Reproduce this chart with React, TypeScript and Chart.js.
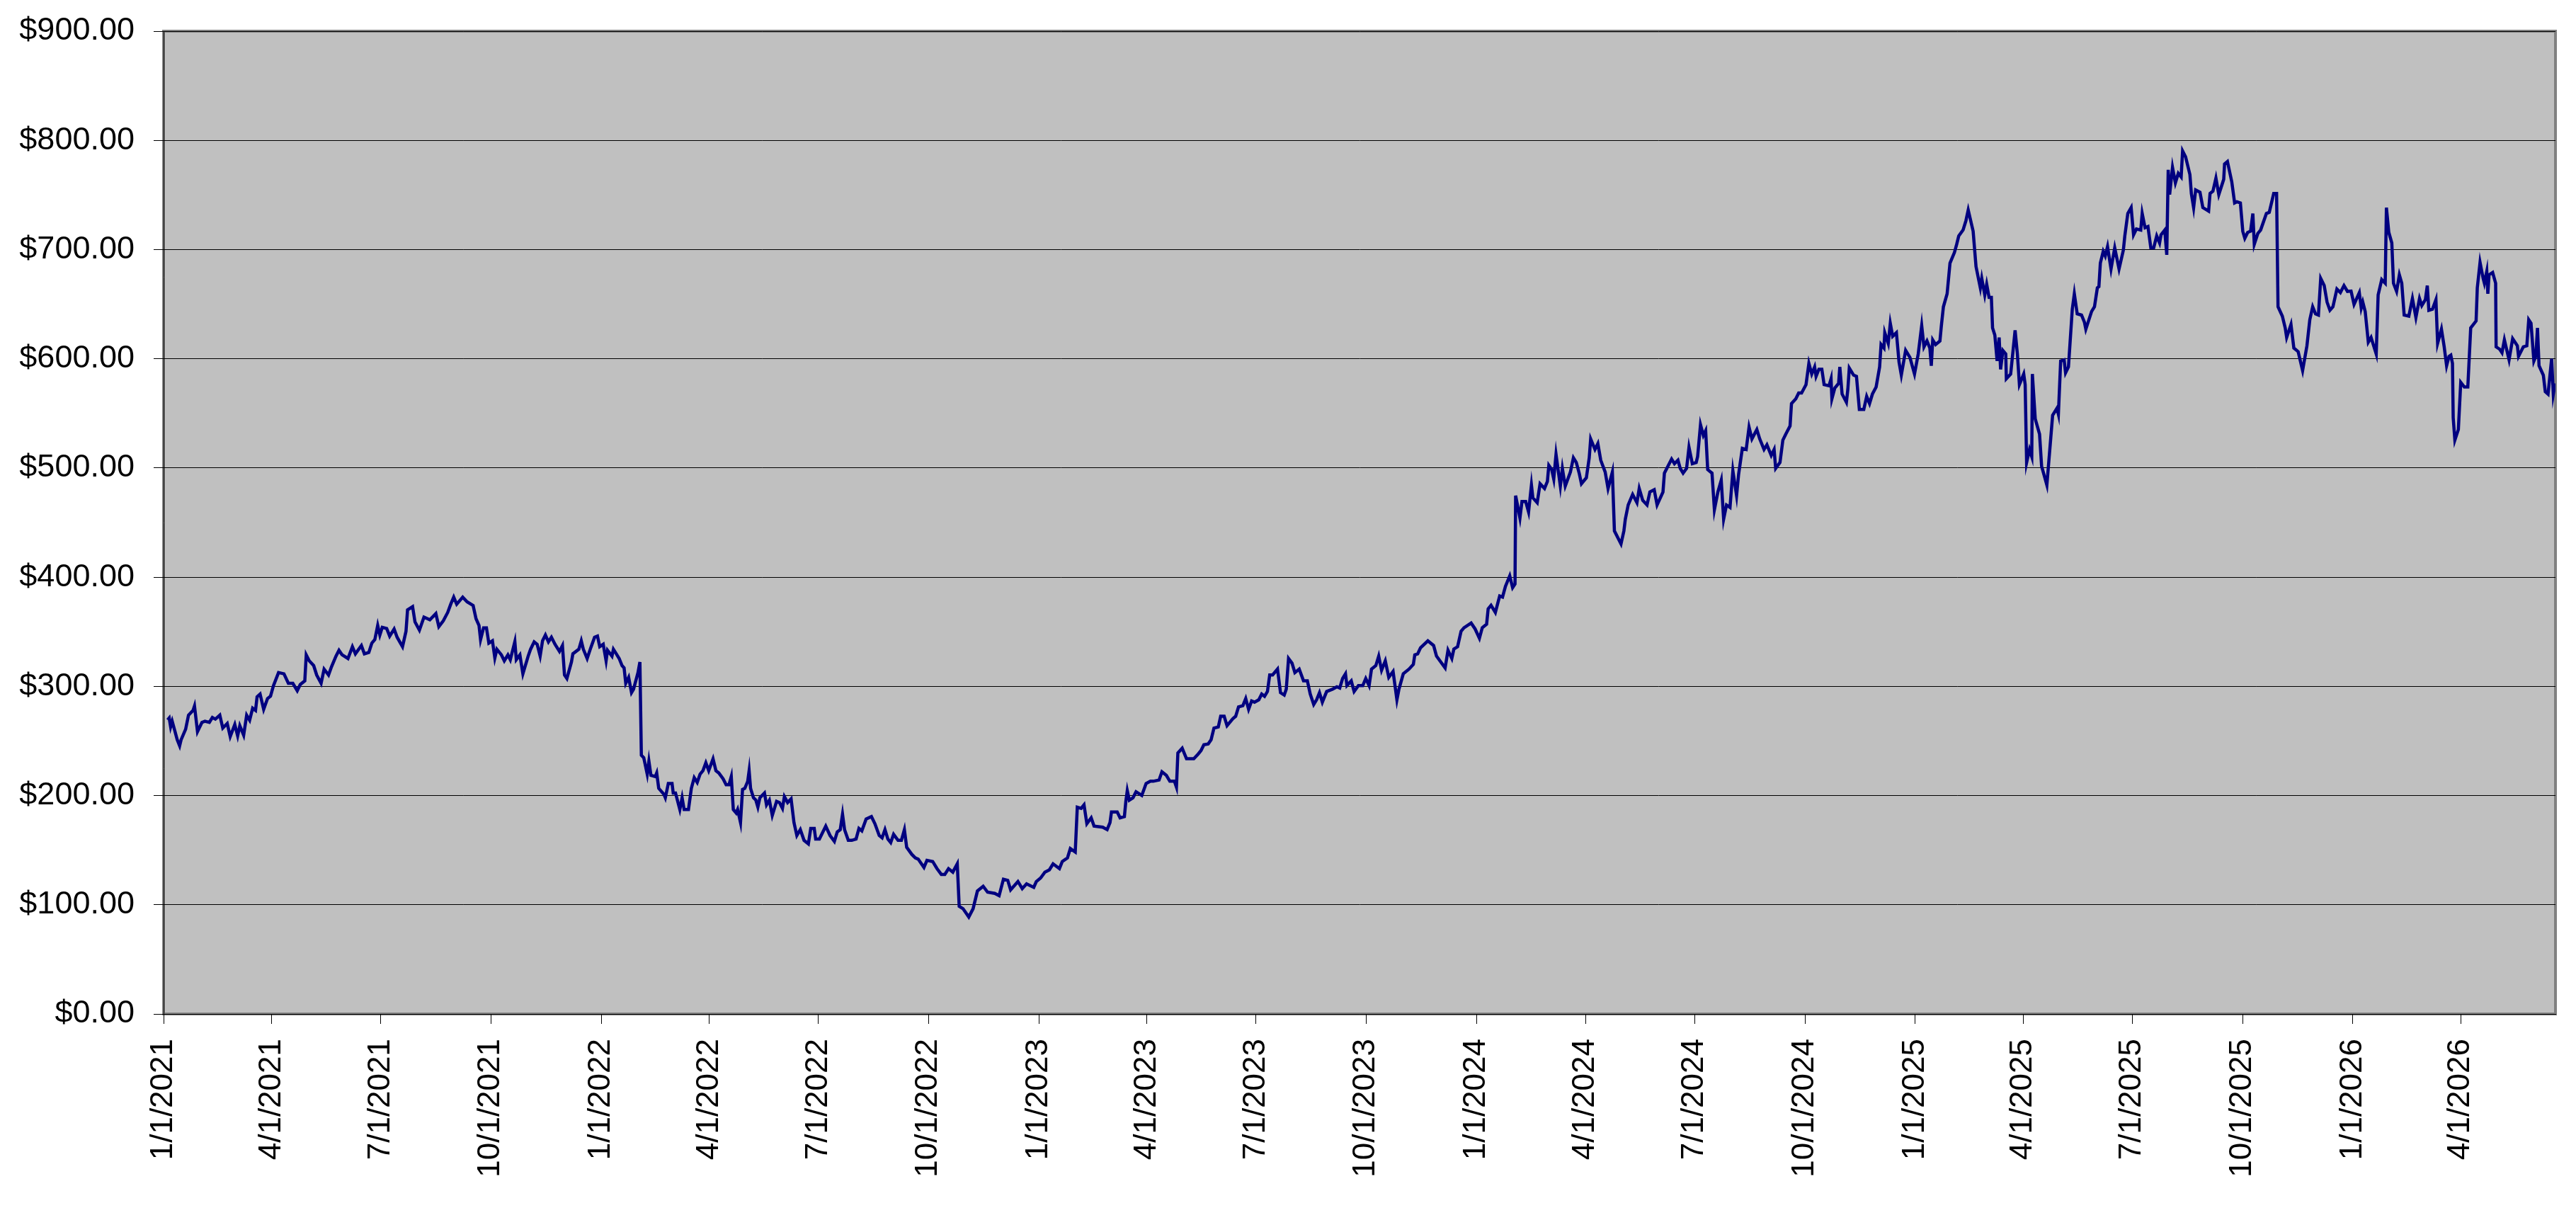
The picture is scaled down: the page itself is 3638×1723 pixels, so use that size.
import React, { useEffect, useRef } from "react";
import { Chart, registerables } from "chart.js";

Chart.register(...registerables);

// ---- Data (day offsets counted from 1/1/2021, closing prices in $) ----
const startLabel = "1/1/2021";
const lastDay = 1995;

const tickLabels = [
  "1/1/2021", "4/1/2021", "7/1/2021", "10/1/2021",
  "1/1/2022", "4/1/2022", "7/1/2022", "10/1/2022",
  "1/1/2023", "4/1/2023", "7/1/2023", "10/1/2023",
  "1/1/2024", "4/1/2024", "7/1/2024", "10/1/2024",
  "1/1/2025", "4/1/2025", "7/1/2025", "10/1/2025",
  "1/1/2026", "4/1/2026",
];

const yMin = 0;
const yMax = 900;
const yStep = 100;

const days2021 = [
  3.4, 4.7, 5.9, 7.2, 9.7, 11.4, 13.4, 14.6, 18.4, 20.8,
  24.6, 25.8, 28.3, 32.0, 34.5, 38.2, 40.7, 43.2, 46.9, 49.4,
  53.1, 55.6, 59.4, 61.8, 63.6, 66.8, 69.3, 71.8, 74.3, 76.7,
  78.0, 80.5, 83.5, 86.7, 89.2, 91.7, 95.9, 100.4, 104.1, 107.8,
  111.5, 114.0, 117.8, 119.0, 121.5, 125.2, 127.7, 131.4, 133.9, 137.6,
  140.1, 143.8, 146.3, 148.8, 153.8, 157.5, 160.0, 165.0, 167.5, 171.2,
  173.7, 176.2, 178.6, 180.4, 182.4, 186.1, 188.6, 192.3, 194.8, 199.3,
  202.2, 203.5, 207.7, 209.7, 213.4, 217.2, 222.1, 227.1, 229.6, 233.3,
  237.0, 239.5, 242.0, 244.5, 249.5, 253.2, 258.2, 260.6, 263.1, 264.4,
  266.9, 269.3, 271.3, 274.3, 276.3, 278.0, 281.8, 284.2, 287.2, 289.2,
  293.0, 294.2, 297.2, 299.7, 304.1, 306.1, 309.1, 311.6, 314.1, 316.1,
  318.5, 321.0, 323.5, 326.5, 330.2, 332.7, 334.4, 336.4, 340.2, 341.4,
  346.4, 348.4, 350.1, 353.3, 356.3,
];
const prices2021 = [
  269.3, 271, 263, 268, 258, 251, 245.5, 251, 260.7, 273.6,
  278, 282, 258.5, 267, 268, 267, 271.5, 270, 273.6, 261.8,
  266, 254, 265, 254.6, 264, 255.3, 273.6, 269, 280, 278,
  290.5, 293, 279, 288.8, 291, 300.7, 312.6, 311.5, 302.8, 302.8,
  296, 301.7, 305, 328.8, 323.4, 319, 310.4, 302.8, 315.8, 310.4,
  318, 327.7, 333, 329, 325.5, 336.3, 329.8, 337.4, 329.8, 331,
  339.6, 342.8, 355.8, 347, 354, 353, 346, 352.5, 345, 336.3,
  350.4, 370, 373, 359, 351.5, 363.4, 361, 366.6, 354.7, 360,
  367.7, 375.2, 381.7, 375.2, 381.7, 377.4, 374, 362, 355.8, 342.8,
  353.6, 353.6, 339.6, 341.7, 326, 334, 328.8, 323.4, 328.8, 324.4,
  341, 324.4, 328.8, 311.5, 327.7, 334, 340.7, 338.5, 327.7, 341.7,
  347, 340.7, 345, 338.5, 332, 337.4, 310.4, 307.2, 322.3, 329.8,
  334, 341.7, 334, 325.5, 335.3,
];

const days2022 = [
  359.5, 361.9, 363.8, 366.7, 369.1, 370.3, 374.0, 375.2, 377.6, 380.0,
  382.4, 384.1, 385.5, 387.9, 390.3, 392.0, 395.7, 397.3, 398.5, 400.5,
  403.4, 404.8, 406.5, 410.1, 411.3, 413.0, 417.3, 418.5, 421.0, 424.1,
  425.1, 427.0, 430.6, 432.5, 434.2, 437.8, 440.2, 442.6, 445.1, 447.5,
  449.9, 452.3, 454.7, 458.3, 460.7, 463.1, 466.7, 469.2, 471.6, 473.5,
  475.2, 477.6, 478.8, 481.2, 482.9, 484.8, 487.2, 488.4, 489.6, 492.0,
  494.0, 495.7, 497.4, 501.2, 502.9, 505.3, 507.7, 511.3, 513.7, 516.2,
  517.8, 520.5, 523.4, 525.8, 528.2, 531.1, 534.2, 537.8, 539.8, 542.7,
  543.9, 547.0, 552.3, 555.9, 559.5, 561.9, 564.4, 566.3, 568.0, 571.1,
  574.0, 577.6, 580.0, 582.4, 586.0, 590.4, 593.3, 596.9, 599.3, 601.7,
  604.1, 606.5, 608.9, 612.6, 615.4, 617.9, 619.8, 624.1, 627.0, 629.4,
  634.2, 636.7, 641.5, 645.1, 648.7, 651.6, 654.7, 658.3, 662.0, 663.6,
  666.8, 671.6, 675.2, 678.8, 683.6, 687.3, 693.3, 696.9, 700.5, 704.1,
  706.5, 712.6, 716.2, 719.8, 725.8,
];
const prices2022 = [
  345, 346, 336.3, 338.5, 323.4, 333, 327.7, 334, 329.8, 325.5,
  319, 316.9, 302.8, 308.2, 294.2, 297.4, 312.6, 322.3, 236.9, 234.7,
  219.6, 231.5, 218.5, 217.4, 220.7, 206.6, 201.2, 198, 211, 211,
  202.3, 202.3, 187.2, 198, 187.2, 187.2, 206.6, 216.4, 212, 219.6,
  222.8, 230, 222.8, 233.6, 222.8, 220.7, 215.3, 209.9, 209.9, 217.4,
  187.2, 184, 187.2, 175.3, 205.6, 206.6, 213, 222.8, 206.6, 198,
  195.8, 189.4, 198, 202.3, 191.5, 195.8, 181.8, 194.7, 193.6, 188.3,
  199, 193.6, 196.9, 175.3, 163.4, 168.8, 159, 155.8, 169.9, 169.9,
  160.2, 160.2, 172, 163.4, 158, 166.7, 168.8, 182.9, 168.8, 159,
  159, 160.2, 169.9, 167.7, 178.5, 180.7, 174.2, 163.4, 161.3, 168.8,
  160.2, 156.9, 164.5, 159, 159, 168.8, 152.6, 146.1, 142.9, 141.8,
  134.2, 140.7, 139.6, 133.1, 127.8, 127.8, 133.1, 129.9, 137.5, 98.6,
  96.4, 88.8, 96.4, 112.6, 116.9, 111.5, 110.4, 108.3, 123.4, 122.3,
  113.7, 121.3, 114.8, 119.1, 115.9,
];

const days2023 = [
  727.9, 731.5, 735.1, 738.8, 741.9, 747.2, 749.6, 753.9, 756.3, 760.4,
  762.1, 765.3, 767.7, 770.1, 773.7, 776.1, 783.3, 787.0, 789.4, 790.6,
  795.4, 797.8, 801.4, 802.6, 803.8, 805.5, 808.6, 811.1, 815.9, 819.5,
  823.1, 825.5, 830.3, 832.7, 836.4, 839.3, 843.1, 844.8, 846.0, 849.6,
  853.2, 859.3, 862.9, 865.3, 867.7, 871.3, 873.7, 876.1, 879.7, 881.7,
  884.6, 887.0, 891.8, 894.2, 896.6, 900.2, 902.6, 905.0, 907.5, 909.9,
  913.5, 915.9, 918.3, 920.7, 922.6, 925.0, 929.1, 931.6, 934.7, 936.4,
  938.3, 941.2, 943.6, 947.2, 950.8, 954.0, 956.4, 959.3, 961.7, 964.1,
  966.5, 970.1, 974.9, 978.6, 981.0, 983.4, 985.8, 987.0, 990.6, 993.0,
  996.6, 1000.2, 1002.7, 1005.5, 1007.5, 1011.1, 1013.5, 1015.9, 1019.0, 1021.9,
  1025.5, 1028.7, 1030.4, 1034.0, 1038.8, 1042.4, 1043.6, 1046.0, 1048.4, 1054.5,
  1059.3, 1061.7, 1068.9, 1071.3, 1074.5, 1076.2, 1079.3, 1082.2, 1084.6, 1090.6,
];
const prices2023 = [
  121.2, 124.5, 129.9, 132, 137.5, 133.1, 139.6, 142.9, 151.5, 148.3,
  189.3, 188.3, 191.5, 174.2, 179.6, 172, 171, 168.8, 175.3, 185,
  185, 179.6, 180.7, 194.7, 204.5, 195.8, 198, 203.4, 200.1, 211,
  213.1, 213.1, 214.2, 221.8, 218.5, 213.1, 213.1, 207.7, 239, 243.4,
  233.7, 233.7, 238, 241.2, 246.6, 247.3, 251, 261.8, 262.8, 272.6,
  272.6, 264, 270.4, 272.6, 281.2, 282.3, 288.8, 279, 286.6, 285.5,
  287.7, 293, 290.9, 295.3, 310.4, 310.4, 315.8, 294.2, 292, 297.4,
  325.5, 321.2, 312.6, 315.8, 305, 305, 293, 283.4, 287.7, 294.2,
  285.5, 295.3, 297.4, 299.6, 298.5, 307.2, 311.5, 300.7, 305, 295.3,
  300.7, 300.7, 307.2, 300.7, 315.8, 319, 327.7, 314.7, 323.4, 308.2,
  313.6, 287.7, 297.4, 311.5, 315.8, 320.1, 328.8, 329.8, 335.3, 341.7,
  337.4, 327.7, 316.9, 333.1, 325.5, 334.2, 336.3, 350.4, 353.6, 358,
];

const days2024 = [
  1093.9, 1097.5, 1099.9, 1103.5, 1104.8, 1107.2, 1110.8, 1114.4, 1116.8, 1119.2,
  1122.8, 1125.2, 1127.2, 1127.7, 1131.3, 1133.0, 1136.1, 1138.5, 1140.9, 1142.1,
  1145.7, 1148.1, 1151.8, 1154.2, 1155.4, 1157.8, 1159.5, 1161.4, 1165.0, 1166.7,
  1169.1, 1173.4, 1175.9, 1178.3, 1180.7, 1182.6, 1186.7, 1189.1, 1190.3, 1193.9,
  1196.3, 1198.7, 1202.4, 1204.8, 1208.4, 1210.1, 1215.6, 1218.0, 1219.2, 1221.6,
  1225.3, 1228.9, 1230.8, 1233.7, 1237.3, 1239.7, 1243.3, 1245.7, 1250.6, 1251.8,
  1257.8, 1260.2, 1263.1, 1265.0, 1267.4, 1270.3, 1272.3, 1275.1, 1278.3, 1279.5,
  1281.9, 1284.3, 1286.2, 1287.9, 1291.5, 1293.5, 1296.4, 1299.2, 1301.2, 1303.6,
  1306.5, 1308.9, 1312.0, 1313.7, 1316.8, 1320.0, 1322.4, 1324.8, 1328.9, 1331.3,
  1334.9, 1337.3, 1340.9, 1343.3, 1344.6, 1348.2, 1350.6, 1353.0, 1356.6, 1357.8,
  1361.4, 1363.8, 1366.2, 1369.9, 1372.3, 1374.7, 1377.1, 1378.3, 1380.7, 1383.1,
  1385.0, 1389.1, 1390.8, 1391.5, 1393.9, 1397.1, 1398.1, 1400.0, 1403.6, 1404.8,
  1406.0, 1409.6, 1412.0, 1414.4, 1418.1, 1420.5, 1422.9, 1425.3, 1428.4, 1431.3,
  1432.5, 1434.9, 1435.6, 1438.5, 1440.2, 1442.2, 1445.3, 1447.5, 1449.4, 1453.0, 1456.6,
];
const prices2024 = [
  352.6, 344, 353.7, 356.9, 371, 374.2, 367.7, 382.8, 381.8, 391.5,
  401.2, 390.4, 393.7, 474.7, 454.2, 469.3, 469.3, 459.6, 484.4, 472.6,
  468.2, 485.5, 481.2, 487.7, 502.4, 498.5, 489.9, 512.5, 483.4, 499.6,
  483.4, 496.3, 509.3, 505, 495.3, 485.5, 491, 509.3, 526.6, 516.9,
  522.3, 507.1, 496.3, 481.2, 496.3, 442.3, 430.4, 442.3, 453.1, 466.1,
  475.8, 468.2, 481.2, 470.4, 466.1, 478, 480.1, 466.1, 478, 495.3,
  508.2, 503.9, 507.1, 499.6, 495.3, 499.6, 519, 503.9, 505, 510.4,
  539.6, 529.8, 534.2, 498.5, 495.3, 461.8, 478, 488.8, 453.1, 466.1,
  463.9, 497.4, 474.7, 494.2, 518, 516.9, 537.4, 526.6, 535.2, 526.6,
  516.9, 521.2, 511.5, 516.9, 499.6, 505, 525.5, 530.9, 538.5, 559,
  563.3, 568.7, 568.7, 576.3, 595.8, 586, 592.5, 583.9, 590.4, 590.4,
  576.3, 575.2, 581.7, 563.3, 573.1, 577.4, 592.5, 567.7, 560.1, 572,
  591.5, 585, 583.9, 553.6, 553.6, 565.5, 559, 567.7, 574.2, 592.5,
  613.1, 609.8, 623.9, 614.1, 632.5, 620.6, 623.9, 596.9, 585, 607.7, 601.2,
];

const days2025 = [
  1460.4, 1463.5, 1466.4, 1468.3, 1470.8, 1473.2, 1474.4, 1475.6, 1478.0, 1481.6,
  1482.8, 1484.5, 1487.6, 1488.8, 1490.0, 1493.7, 1495.6, 1497.3, 1500.9, 1503.3,
  1505.2, 1509.3, 1511.7, 1515.3, 1516.5, 1519.0, 1520.6, 1522.6, 1524.5, 1525.5,
  1527.4, 1529.3, 1531.0, 1532.2, 1534.1, 1536.5, 1537.0, 1540.6, 1544.3, 1546.2,
  1547.9, 1551.5, 1552.7, 1553.9, 1556.3, 1558.2, 1558.7, 1561.1, 1564.7, 1566.4,
  1570.8, 1575.6, 1579.2, 1580.4, 1582.3, 1585.2, 1586.4, 1588.8, 1592.0, 1593.7,
  1596.1, 1599.7, 1602.1, 1603.3, 1608.1, 1610.5, 1612.9, 1614.2, 1615.4, 1617.8,
  1619.5, 1621.4, 1624.3, 1627.4, 1631.0, 1634.6, 1635.8, 1638.3, 1641.1, 1643.1,
  1645.5, 1649.1, 1650.3, 1652.7, 1655.1, 1657.5, 1659.9, 1662.4, 1664.8, 1666.0,
  1669.1, 1670.8, 1672.0, 1673.2, 1675.6, 1678.0, 1680.4, 1682.8, 1684.0, 1686.5,
  1690.1, 1691.3, 1693.2, 1694.9, 1698.5, 1700.9, 1705.7, 1706.9, 1709.3, 1711.8,
  1714.2, 1718.3, 1719.0, 1721.4, 1725.0, 1727.4, 1729.3, 1732.2, 1734.2, 1735.9,
  1738.3, 1740.7, 1742.6, 1743.8, 1746.7, 1749.1, 1753.9, 1756.3, 1760.0, 1762.4,
  1763.6, 1767.2, 1769.6, 1770.8, 1774.4, 1776.8, 1780.4, 1784.1, 1787.7, 1790.1,
  1792.5, 1794.9, 1797.3, 1799.2, 1802.1, 1804.5, 1806.9, 1809.4,
];
const prices2025 = [
  586, 604.4, 630.3, 610.9, 616.3, 609.8, 593.6, 617.3, 613, 616.3,
  630.3, 647.6, 659.5, 673.6, 687.6, 697.3, 704.9, 712.5, 717.9, 726.5,
  736.2, 716.8, 684.4, 664.9, 673.6, 658.4, 668.2, 656.2, 656.2, 628.2,
  621.7, 597.9, 619.5, 590.3, 607.6, 604.4, 581.7, 586, 626, 604.4,
  576.3, 586, 576.3, 504.9, 516.8, 510.3, 586, 544.9, 530.9, 501.7,
  484.4, 548.2, 554.7, 549.2, 597.9, 599, 587.1, 592.5, 645.4, 659.5,
  641.1, 640, 633.6, 627.1, 643.3, 647.6, 664.9, 666, 687.6, 698.4,
  694.1, 702.7, 682.2, 701.6, 682.2, 699.5, 712.5, 733, 738.4, 713.5,
  718.9, 717.9, 733, 720, 721.1, 701.6, 701.6, 712.5, 706, 713.5,
  717.9, 695.2, 773, 750.3, 775.2, 761.1, 769.8, 766.5, 790.3, 784.9,
  768.7, 751.4, 738.4, 754.6, 752.5, 738.4, 735.2, 751.4, 753.5, 765.4,
  750.3, 764.3, 778.4, 780.6, 762.2, 742.7, 743.8, 742.7, 716.8, 710.3,
  715.7, 716.8, 733, 704.9, 714.6, 717.9, 733, 734.1, 751.4, 751.4,
  647.6, 639, 628.2, 619.5, 631.4, 609.8, 606.5, 589.2, 611.9, 635.7,
  647.6, 641.1, 640, 673.6, 667.1, 651.9, 644.4, 647.6,
];

const days2026 = [
  1812.7, 1815.6, 1818.6, 1821.5, 1824.5, 1827.0, 1831.4, 1833.0, 1834.3, 1836.3,
  1838.9, 1841.2, 1845.5, 1847.1, 1850.1, 1853.0, 1854.0, 1856.0, 1858.5, 1859.9,
  1862.5, 1864.8, 1866.8, 1868.8, 1872.7, 1875.7, 1878.6, 1881.6, 1883.5, 1886.5,
  1888.1, 1889.4, 1892.4, 1895.3, 1896.7, 1899.9, 1902.2, 1904.2, 1906.2, 1907.7,
  1909.1, 1909.7, 1911.1, 1914.0, 1916.0, 1919.0, 1921.9, 1924.3, 1928.8, 1929.8,
  1932.1, 1934.7, 1935.7, 1937.7, 1938.6, 1939.6, 1942.6, 1945.1, 1945.5, 1948.5,
  1950.4, 1952.4, 1956.3, 1959.3, 1963.2, 1964.2, 1968.2, 1971.1, 1972.7, 1974.6,
  1977.0, 1978.6, 1980.0, 1981.3, 1984.9, 1986.5, 1988.8, 1991.8, 1993.2, 1994.7,
];
const prices2026 = [
  663.8, 660.6, 667, 661.7, 662, 649.8, 660.6, 646.5, 651.9, 643.3,
  615.2, 619.5, 604.4, 658.4, 672.5, 669.2, 738.4, 715.7, 706, 669.2,
  661.7, 676.8, 669.2, 640, 639, 655.2, 637.9, 655.2, 648.7, 654.1,
  667, 644.4, 645.4, 654.1, 614.1, 627.1, 610.9, 593.6, 602.2, 603.3,
  595.7, 546, 525.5, 535.2, 578.4, 574.1, 574.1, 628.2, 634.6, 664.9,
  688.2, 673.5, 669.2, 680, 659.5, 676.8, 679, 669.2, 610.9, 608.7,
  605.5, 617.3, 599, 618.4, 611.9, 602.2, 610.9, 611.9, 635.7, 632.5,
  597.9, 602.2, 628.2, 593.6, 584.9, 569.8, 567.6, 600, 567.6, 577.4,
];

// ---- Helpers ----
function dayOf(label: string): number {
  const [m, d, y] = label.split("/").map(Number);
  const [m0, d0, y0] = startLabel.split("/").map(Number);
  return Math.round((Date.UTC(y, m - 1, d) - Date.UTC(y0, m0 - 1, d0)) / 86400000);
}

const allDays = [...days2021, ...days2022, ...days2023, ...days2024, ...days2025, ...days2026];
const allPrices = [...prices2021, ...prices2022, ...prices2023, ...prices2024, ...prices2025, ...prices2026];

const FONT = "'Liberation Sans', Arial, Helvetica, sans-serif";

const plotFrame = {
  id: "plotFrame",
  beforeDraw(chart: any) {
    const { ctx, chartArea: a } = chart;
    if (!a) return;
    ctx.save();
    ctx.fillStyle = "#c0c0c0";
    ctx.fillRect(a.left, a.top, a.right - a.left, a.bottom - a.top);
    ctx.strokeStyle = "#808080";
    ctx.lineWidth = 4;
    ctx.strokeRect(a.left, a.top, a.right - a.left, a.bottom - a.top);
    ctx.restore();
  },
};

export default function App() {
  const canvasRef = useRef<HTMLCanvasElement | null>(null);

  useEffect(() => {
    const canvas = canvasRef.current;
    if (!canvas) return;
    const n = Math.min(allDays.length, allPrices.length);
    const points = [];
    for (let i = 0; i < n; i++) points.push({ x: allDays[i], y: allPrices[i] });
    const tickValues = tickLabels.map(dayOf);

    const chart = new Chart(canvas, {
      type: "line",
      data: {
        datasets: [
          {
            label: "Price",
            data: points,
            borderColor: "#000080",
            backgroundColor: "#000080",
            borderWidth: 4.5,
            pointRadius: 0,
            tension: 0,
            fill: false,
          },
        ],
      },
      options: {
        responsive: false,
        animation: false,
        devicePixelRatio: 1,
        parsing: false as any,
        layout: { padding: { top: 44, right: 29, left: 0, bottom: 0 } },
        plugins: {
          legend: { display: false },
          tooltip: { enabled: false },
        },
        scales: {
          x: {
            type: "linear",
            min: 0,
            max: lastDay,
            afterBuildTicks: (scale: any) => {
              scale.ticks = tickValues.map((v) => ({ value: v }));
            },
            afterFit: (scale: any) => {
              scale.height = 291;
              scale.paddingLeft = 0;
              scale.paddingRight = 0;
            },
            ticks: {
              autoSkip: false,
              minRotation: 90,
              maxRotation: 90,
              padding: 21,
              color: "#000000",
              font: { family: FONT, size: 44 },
              callback: (value: any) => {
                const idx = tickValues.indexOf(Number(value));
                return idx >= 0 ? tickLabels[idx] : "";
              },
            },
            grid: {
              drawOnChartArea: false,
              drawTicks: true,
              tickLength: 14,
              color: "#000000",
              lineWidth: 1,
            },
            border: { display: true, color: "#000000", width: 1 },
          },
          y: {
            type: "linear",
            min: yMin,
            max: yMax,
            afterFit: (scale: any) => {
              scale.width = 231;
              scale.paddingTop = 0;
              scale.paddingBottom = 0;
            },
            ticks: {
              stepSize: yStep,
              padding: 27,
              color: "#000000",
              font: { family: FONT, size: 45 },
              callback: (value: any) => "$" + Number(value).toFixed(2),
            },
            grid: {
              color: "#000000",
              lineWidth: 1,
              drawTicks: true,
              tickLength: 14,
            },
            border: { display: true, color: "#000000", width: 1 },
          },
        },
      },
      plugins: [plotFrame],
    });

    return () => chart.destroy();
  }, []);

  return (
    <div
      style={{
        position: "fixed",
        left: 0,
        top: 0,
        width: 3638,
        height: 1723,
        background: "#ffffff",
      }}
    >
      <canvas ref={canvasRef} width={3638} height={1723} style={{ display: "block" }} />
    </div>
  );
}
